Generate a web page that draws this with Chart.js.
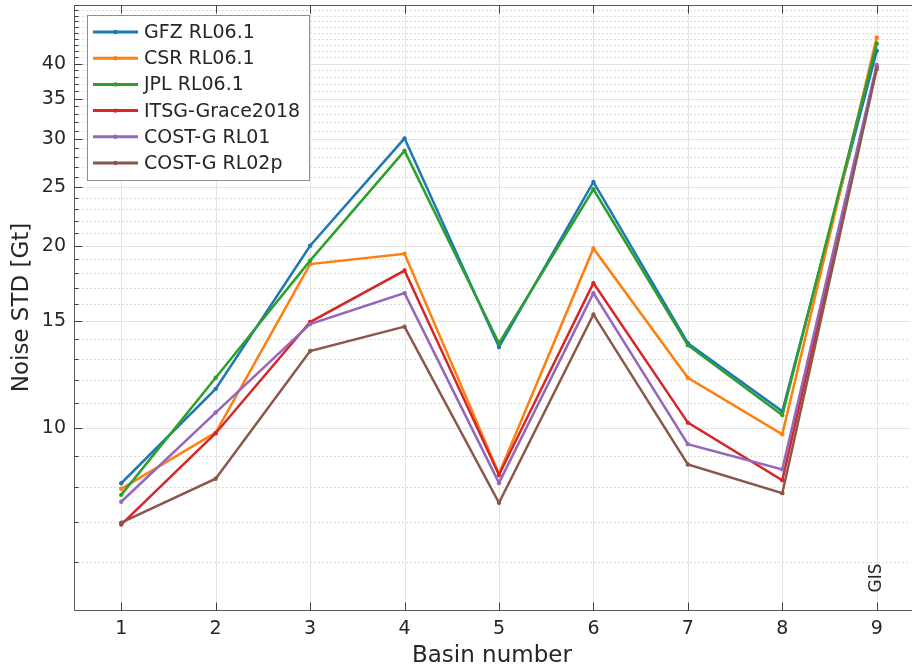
<!DOCTYPE html>
<html><head><meta charset="utf-8">
<script src="https://cdn.jsdelivr.net/npm/chart.js@4.4.0/dist/chart.umd.min.js"></script>
<style>html,body{margin:0;padding:0;background:#fff;overflow:hidden;}</style>
</head><body>
<canvas id="c" width="912" height="671"></canvas>
<script>
// ---- data ----
const basins = [1, 2, 3, 4, 5, 6, 7, 8, 9];
const seriesNames = ['GFZ RL06.1', 'CSR RL06.1', 'JPL RL06.1', 'ITSG-Grace2018', 'COST-G RL01', 'COST-G RL02p'];
const gfz     = [8.10, 11.6, 20.0, 30.1, 13.6, 25.5, 13.8, 10.65, 42.0];
const csr     = [7.93, 9.82, 18.65, 19.4, 8.40, 19.8, 12.1, 9.76, 44.2];
const jpl     = [7.75, 12.1, 18.9, 28.7, 13.8, 24.8, 13.7, 10.5, 43.2];
const itsg    = [6.92, 9.80, 14.96, 18.2, 8.36, 17.35, 10.2, 8.19, 39.6];
const costg01 = [7.55, 10.6, 14.85, 16.7, 8.11, 16.7, 9.4, 8.54, 39.8];
const costg02 = [6.97, 8.24, 13.4, 14.7, 7.52, 15.4, 8.7, 7.8, 39.2];
const yTickLabels = [10, 15, 20, 25, 30, 35, 40];
const yMinorTicks = [5,6,7,8,9,10,11,12,13,14,15,16,17,18,19,20,21,22,23,24,25,26,27,28,29,30,31,32,33,34,35,36,37,38,39,40,41,42,43,44,45,46,47,48,49,50];
const basinLabel = { basin: 9, text: 'GIS' };
const colors = ['#1f77b4', '#ff7f0e', '#2ca02c', '#d62728', '#9467bd', '#8c564b'];

const seriesValues = [gfz, csr, jpl, itsg, costg01, costg02];
const FONT = "'DejaVu Sans', sans-serif";
const TXT = '#262626';

const datasets = seriesValues.map((vals, i) => ({
  label: seriesNames[i],
  data: basins.map((b, j) => ({ x: b, y: vals[j] })),
  borderColor: colors[i],
  backgroundColor: colors[i],
  borderWidth: 2.5,
  pointRadius: 2.2,
  pointBorderWidth: 0,
  pointHoverRadius: 2.2,
  tension: 0,
  order: seriesValues.length - i
}));

const majorSet = new Set(yTickLabels);

const decor = {
  id: 'decor',
  beforeDatasetsDraw(chart) {
    const { ctx, chartArea: a, scales: { x, y } } = chart;
    ctx.save();
    ctx.lineWidth = 1;
    ctx.setLineDash([2, 2]);
    ctx.strokeStyle = '#dcdcdc';
    for (const v of yMinorTicks) {
      if (majorSet.has(v)) continue;
      const py = Math.round(y.getPixelForValue(v)) + 0.5;
      if (py < a.top || py > a.bottom) continue;
      ctx.beginPath(); ctx.moveTo(a.left, py); ctx.lineTo(a.right, py); ctx.stroke();
    }
    ctx.setLineDash([]);
    ctx.strokeStyle = '#e3e3e3';
    for (const v of yTickLabels) {
      const py = Math.round(y.getPixelForValue(v)) + 0.5;
      ctx.beginPath(); ctx.moveTo(a.left, py); ctx.lineTo(a.right, py); ctx.stroke();
    }
    for (const b of basins) {
      const px = Math.round(x.getPixelForValue(b)) + 0.5;
      ctx.beginPath(); ctx.moveTo(px, a.top); ctx.lineTo(px, a.bottom); ctx.stroke();
    }
    ctx.restore();
  },
  afterDatasetsDraw(chart) {
    const { ctx, chartArea: a, scales: { x, y } } = chart;
    ctx.save();
    ctx.lineWidth = 1;
    ctx.strokeStyle = '#5a5a5a';
    const L = Math.round(a.left) + 0.5, B = Math.round(a.bottom) + 0.5, T = Math.round(a.top) + 0.5;
    ctx.beginPath();
    ctx.moveTo(a.right + 3, T); ctx.lineTo(L, T); ctx.lineTo(L, B); ctx.lineTo(a.right + 3, B);
    ctx.stroke();
    ctx.strokeStyle = '#404040';
    for (const v of yMinorTicks) {
      const py = Math.round(y.getPixelForValue(v)) + 0.5;
      if (py < a.top || py > a.bottom) continue;
      const len = majorSet.has(v) ? 8 : 4;
      ctx.beginPath(); ctx.moveTo(L, py); ctx.lineTo(L + len, py); ctx.stroke();
    }
    for (const b of basins) {
      const px = Math.round(x.getPixelForValue(b)) + 0.5;
      ctx.beginPath(); ctx.moveTo(px, B); ctx.lineTo(px, B - 8); ctx.stroke();
      ctx.beginPath(); ctx.moveTo(px, T); ctx.lineTo(px, T + 8); ctx.stroke();
    }
    const gx = x.getPixelForValue(basinLabel.basin);
    ctx.translate(gx, 578);
    ctx.rotate(-Math.PI / 2);
    ctx.fillStyle = TXT;
    ctx.font = '17px ' + FONT;
    ctx.textAlign = 'center';
    ctx.textBaseline = 'middle';
    ctx.fillText(basinLabel.text, 0, 0);
    ctx.restore();

    ctx.save();
    const lx = 87, ly = 15, lw = 222, lh = 165;
    ctx.fillStyle = '#ffffff';
    ctx.fillRect(lx, ly, lw, lh);
    ctx.strokeStyle = '#8f8f8f';
    ctx.lineWidth = 1;
    ctx.strokeRect(lx + 0.5, ly + 0.5, lw, lh);
    ctx.font = '19px ' + FONT;
    ctx.textBaseline = 'middle';
    ctx.textAlign = 'left';
    chart.data.datasets.forEach((ds, i) => {
      const cy = 32 + i * 26.2;
      ctx.strokeStyle = ds.borderColor;
      ctx.lineWidth = 3;
      ctx.beginPath(); ctx.moveTo(93, cy); ctx.lineTo(138, cy); ctx.stroke();
      ctx.fillStyle = ds.borderColor;
      ctx.beginPath(); ctx.arc(115.5, cy, 2.2, 0, Math.PI * 2); ctx.fill();
      ctx.fillStyle = TXT;
      ctx.fillText(ds.label, 144, cy + 1);
    });
    ctx.restore();
  }
};

new Chart(document.getElementById('c'), {
  type: 'line',
  data: { datasets },
  options: {
    responsive: false,
    animation: false,
    layout: { padding: { top: 5, right: 0, left: 0, bottom: 0 } },
    plugins: { legend: { display: false }, tooltip: { enabled: false } },
    scales: {
      x: {
        type: 'linear',
        min: 0.5,
        max: 9.35,
        afterBuildTicks: (s) => { s.ticks = basins.map(v => ({ value: v })); },
        afterFit: (s) => { s.height = 61; s.paddingLeft = 0; s.paddingRight = 0; },
        grid: { display: false, drawTicks: false },
        border: { display: false },
        ticks: { color: TXT, font: { family: FONT, size: 19 }, padding: 8, maxRotation: 0, autoSkip: false,
                 callback: (v) => String(v) },
        title: { display: true, text: 'Basin number', color: TXT, font: { family: FONT, size: 23 }, padding: { top: 0, bottom: 1 } }
      },
      y: {
        type: 'logarithmic',
        min: 5,
        max: 50,
        afterBuildTicks: (s) => { s.ticks = yMinorTicks.map(v => ({ value: v })); },
        afterFit: (s) => { s.width = 74; s.paddingTop = 0; s.paddingBottom = 0; },
        grid: { display: false, drawTicks: false },
        border: { display: false },
        ticks: { color: TXT, font: { family: FONT, size: 19 }, padding: 8, autoSkip: false,
                 callback: (v) => (majorSet.has(v) ? String(v) : '') },
        title: { display: true, text: 'Noise STD [Gt]', color: TXT, font: { family: FONT, size: 23 }, padding: { top: 8, bottom: 0 } }
      }
    }
  },
  plugins: [decor]
});
</script>
</body></html>
